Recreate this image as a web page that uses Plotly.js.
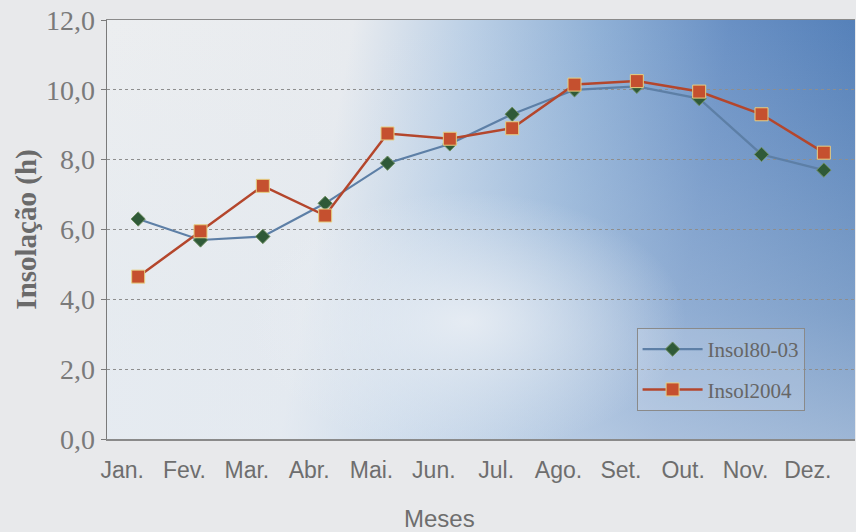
<!DOCTYPE html>
<html>
<head>
<meta charset="utf-8">
<script src="https://cdn.plot.ly/plotly-3.0.1.min.js"></script>
<style>
  html, body { margin: 0; padding: 0; background: #e8e9eb; }
  #wrap { position: relative; width: 856px; height: 532px; overflow: hidden; }
  #bg {
    position: absolute; left: 107px; top: 20px; width: 748px; height: 419px;
    background:
      radial-gradient(ellipse 220px 130px at 48% 72%, rgba(236,240,245,0.85) 0%, rgba(236,240,245,0) 100%),
      linear-gradient(to bottom, rgba(230,236,243,0) 0%, rgba(220,230,240,0.35) 70%, rgba(225,233,242,0.55) 100%),
      linear-gradient(100deg, #eceef0 0%, #e8ebef 30%, #bcd0e6 44%, #8fb0d6 60%, #6990c4 76%, #4a78b3 100%);
  }
  #chart { position: absolute; left: 0; top: 0; width: 856px; height: 532px; }
</style>
</head>
<body>
<div id="wrap">
  <div id="bg"></div>
  <div id="chart"></div>
</div>
<script>
// Data
const months = ["Jan.", "Fev.", "Mar.", "Abr.", "Mai.", "Jun.", "Jul.", "Ago.", "Set.", "Out.", "Nov.", "Dez."];
const insol8003 = [6.3, 5.7, 5.8, 6.75, 7.9, 8.45, 9.3, 10.0, 10.1, 9.75, 8.15, 7.7];
const insol2004 = [4.65, 5.95, 7.25, 6.4, 8.75, 8.6, 8.9, 10.15, 10.25, 9.95, 9.3, 8.2];
const seriesNames = ["Insol80-03", "Insol2004"];
const yTickVals = [0, 2, 4, 6, 8, 10, 12];

const traces = [
  {
    x: months, y: insol8003, name: seriesNames[0], legendgroup: "a", type: "scatter", mode: "lines+markers",
    line: { color: "#5d7fa6", width: 2.2 },
    marker: { symbol: "diamond", size: 11, color: "#2f5a38", line: { color: "#6f8f62", width: 1 } }
  },
  {
    x: months, y: insol2004, name: seriesNames[1], legendgroup: "b", type: "scatter", mode: "lines+markers",
    line: { color: "#b4462c", width: 2.5 },
    marker: { symbol: "square", size: 13, color: "#c5502f", line: { color: "#e6cf82", width: 1 } }
  }
];

const layout = {
  width: 856, height: 532,
  margin: { l: 107, r: 1, t: 20, b: 93 },
  paper_bgcolor: "rgba(0,0,0,0)",
  plot_bgcolor: "rgba(0,0,0,0)",
  separators: ",.",
  showlegend: true,
  legend: {
    x: 0.708, y: 0.265, xanchor: "left", yanchor: "top",
    bgcolor: "rgba(255,255,255,0.15)",
    bordercolor: "#8a8a8a", borderwidth: 1,
    font: { family: "Liberation Serif, Times New Roman, serif", size: 21, color: "#666" },
    tracegroupgap: 10, itemwidth: 60
  },
  xaxis: {
    type: "category",
    range: [-0.5, 11.5],
    showline: true, linecolor: "#8a8a8a", linewidth: 1.5, mirror: true,
    showgrid: false, zeroline: false,
    ticks: "", ticklabelshift: -16, ticklabelstandoff: 10,
    tickfont: { family: "Liberation Sans, Arial, sans-serif", size: 23, color: "#6e6e6e" }
  },
  yaxis: {
    range: [0, 12],
    tickvals: yTickVals, tickformat: ".1f",
    showline: true, linecolor: "#7a7a7a", linewidth: 1.5, mirror: false,
    ticks: "outside", ticklen: 5, tickcolor: "#7a7a7a",
    showgrid: true, gridcolor: "#8e8e8e", griddash: "dot", gridwidth: 1,
    zeroline: false,
    tickfont: { family: "Liberation Serif, Times New Roman, serif", size: 28, color: "#7a7a7a" },
    title: {
      text: "<b>Insolação (h)</b>", standoff: 1,
      font: { family: "Liberation Serif, Times New Roman, serif", size: 29, color: "#6a6a6a" }
    }
  },
  annotations: [
    {
      text: "Meses", xref: "paper", yref: "paper", x: 0.445, y: -0.19,
      xanchor: "center", yanchor: "middle", showarrow: false,
      font: { family: "Liberation Sans, Arial, sans-serif", size: 24, color: "#6e6e6e" }
    }
  ]
};

Plotly.newPlot("chart", traces, layout, { displayModeBar: false, staticPlot: true });
</script>
</body>
</html>
